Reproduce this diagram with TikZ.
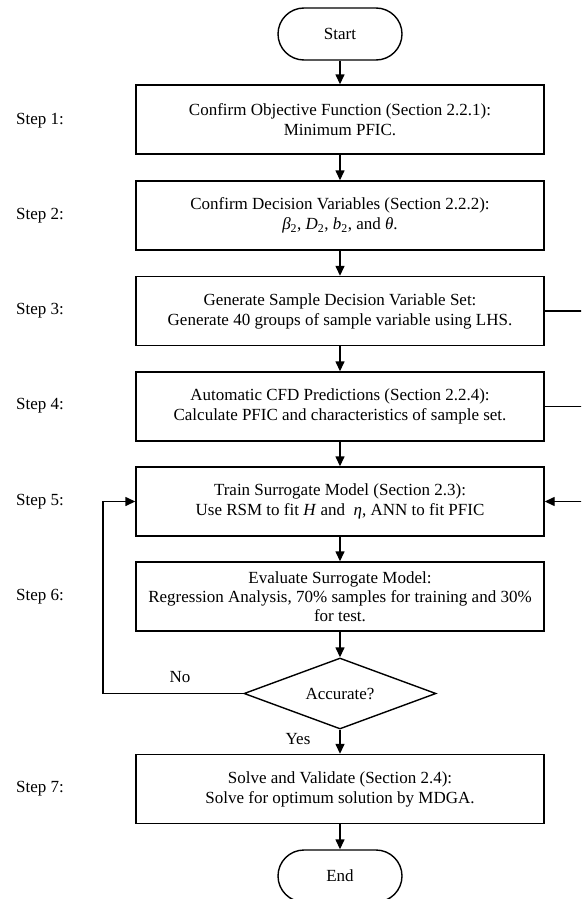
\documentclass[tikz,border=0pt]{standalone}
\usepackage{fontspec}
\setmainfont{Liberation Serif}
\usetikzlibrary{arrows.meta,shapes.geometric}
\begin{document}
\begin{tikzpicture}[x=1pt,y=-1pt,
  every node/.style={font=\fontsize{17}{20}\selectfont},
  box/.style={draw,line width=1.4pt,minimum width=408pt,minimum height=69pt,align=center,inner sep=2pt},
  term/.style={draw,line width=1.4pt,rounded corners=26pt,minimum width=124pt,minimum height=52pt},
  dec/.style={draw,line width=1.4pt,diamond,shape aspect=2.7,inner sep=0pt,minimum width=192pt,minimum height=71pt},
  lbl/.style={anchor=west,inner sep=0pt},
  line/.style={line width=1.4pt},
  arr/.style={line width=1.4pt,-{Triangle[length=10pt,width=9pt]}}]
\clip (0,0) rectangle (581,899);
\fill[white] (0,0) rectangle (581,899);

\node[term] (start) at (340,34) {Start};
\node[box] (b1) at (340,119.5) {Confirm Objective Function (Section 2.2.1):\\Minimum PFIC.};
\node[box] (b2) at (340,215.5) {Confirm Decision Variables (Section 2.2.2):\\\textit{β}\textsubscript{2}, \textit{D}\textsubscript{2}, \textit{b}\textsubscript{2}, and \textit{θ}.};
\node[box] (b3) at (340,311) {Generate Sample Decision Variable Set:\\Generate 40 groups of sample variable using LHS.};
\node[box] (b4) at (340,406.5) {Automatic CFD Predictions (Section 2.2.4):\\Calculate PFIC and characteristics of sample set.};
\node[box] (b5) at (340,501.5) {Train Surrogate Model (Section 2.3):\\Use RSM to fit \textit{H} and \ \textit{η}, ANN to fit PFIC};
\node[box,font=\fontsize{17}{19}\selectfont] (b6) at (340,596.5) {Evaluate Surrogate Model:\\Regression Analysis, 70\% samples for training and 30\%\\for test.};
\node[dec] (d) at (340,693.5) {Accurate?};
\node[box] (b7) at (340,789) {Solve and Validate (Section 2.4):\\Solve for optimum solution by MDGA.};
\node[term] (end) at (340,876) {End};

\node[lbl] (s1) at (16,121) {Step 1:};
\node[lbl] (s2) at (16,216) {Step 2:};
\node[lbl] (s3) at (16,311) {Step 3:};
\node[lbl] (s4) at (16,406) {Step 4:};
\node[lbl] (s5) at (16,502) {Step 5:};
\node[lbl] (s6) at (16,597) {Step 6:};
\node[lbl] (s7) at (16,789) {Step 7:};

\draw[arr] (start) -- (b1);
\draw[arr] (b1) -- (b2);
\draw[arr] (b2) -- (b3);
\draw[arr] (b3) -- (b4);
\draw[arr] (b4) -- (b5);
\draw[arr] (b5) -- (b6);
\draw[arr] (b6) -- (d);
\draw[arr] (d) -- (b7);
\draw[arr] (b7) -- (end);

\coordinate (fb) at (103,693.5);
\draw[arr] (d.west) -- (fb) |- (b5.west);
\node (no) at (180,677) {No};
\node (yes) at (298,739) {Yes};

\coordinate (rt) at (600,311);
\draw[line] (b3.east) -- (rt);
\draw[line] (b4.east) -- (600,406.5);
\draw[arr] (rt) |- (b5.east);
\end{tikzpicture}
\end{document}
